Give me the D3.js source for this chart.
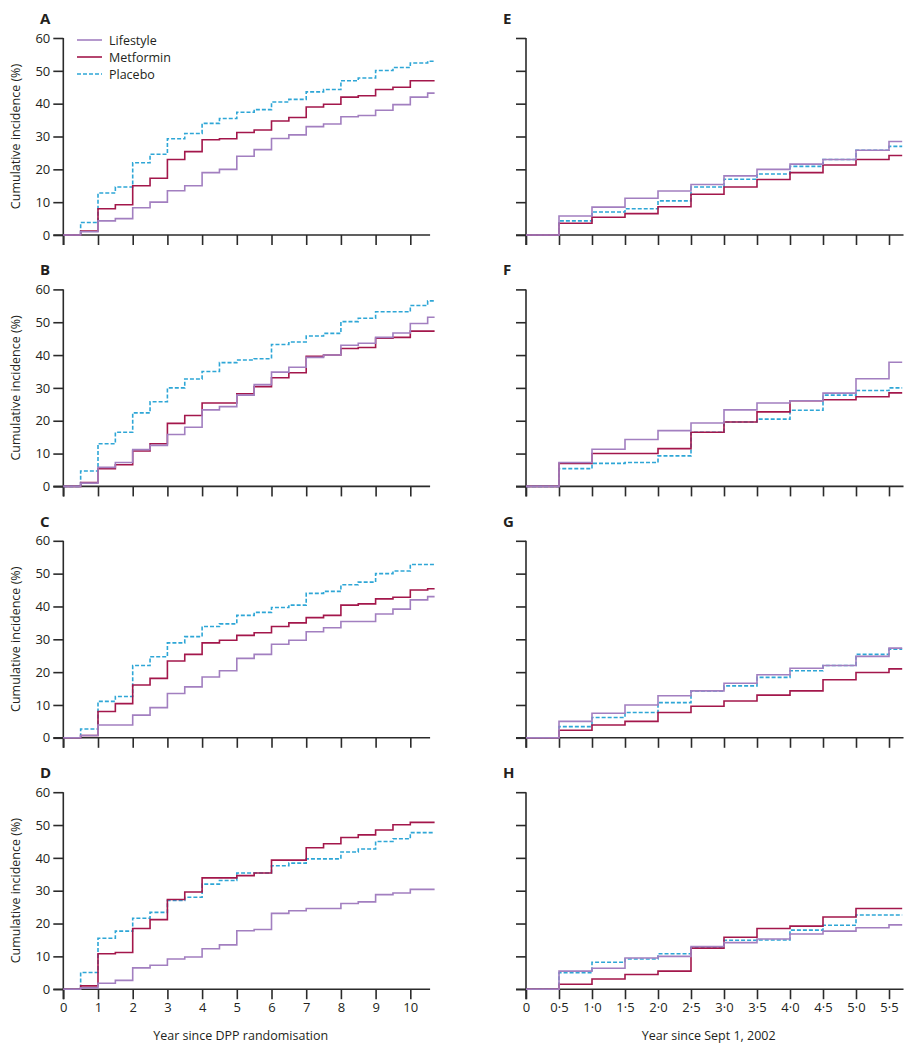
<!DOCTYPE html>
<html><head><meta charset="utf-8">
<script src="https://cdn.jsdelivr.net/npm/d3@7"></script>
<style>
body{margin:0;background:#fff;}
text{font-family:"Open Sans","Noto Sans",sans-serif;fill:#231f20;}
</style></head>
<body><svg id="c" width="913" height="1050"></svg>
<script>
// ---- data ----
const stepsLeft = [0.5,1,1.5,2,2.5,3,3.5,4,4.5,5,5.5,6,6.5,7,7.5,8,8.5,9,9.5,10,10.5];
const stepsRight = [0.5,1,1.5,2,2.5,3,3.5,4,4.5,5,5.5];
const xTicksLeft = [0,1,2,3,4,5,6,7,8,9,10];
const xTicksRight = [0,0.5,1,1.5,2,2.5,3,3.5,4,4.5,5,5.5];
const xTickLabelsRight = ["0","0·5","1·0","1·5","2·0","2·5","3·0","3·5","4·0","4·5","5·0","5·5"];
const yTicks = [0,10,20,30,40,50,60];
const seriesNames = ["Lifestyle","Metformin","Placebo"];
const panelLabels = ["A","B","C","D","E","F","G","H"];

const lifestyleA = [1,4.3,5,8.3,10,13.5,15,19,20,24,26,29.4,30.5,33,33.8,36,36.4,38,39.7,42,43.2];
const metforminA = [1.2,8,9.2,15,17.3,23,25.4,29,29.3,31.2,32,34.7,35.8,39,39.8,42,42.4,44.3,45,47,47];
const placeboA   = [3.8,12.8,14.6,22,24.6,29.3,30.9,34,35.5,37.4,38.2,40.5,41.3,43.6,44.3,47,47.8,50.1,51,52.4,52.9];

const lifestyleB = [1,5.8,7.3,11.2,12.5,15.8,18,23.3,24.3,27.8,31,34.8,36.3,39.3,40,43,43.6,45.4,46.7,49.6,51.5];
const metforminB = [1.2,5.4,6.6,10.8,13,19.2,21.6,25.4,25.4,28.2,30.4,33.1,34.6,39.6,40,42,42.3,45.1,45.4,47.3,47.3];
const placeboB   = [4.7,13,16.5,22.4,25.8,30,32.7,35,37.7,38.5,38.9,43.2,44,45.8,46.6,50.2,51.2,53.2,53.2,55.1,56.5];

const lifestyleC = [0.7,3.9,3.9,6.9,9.2,13.5,15.5,18.5,20.4,24.2,25.4,28.5,29.7,32.3,33.5,35.4,35.4,37.7,39.2,42,43];
const metforminC = [0.7,8,10.4,16.1,18.1,23.4,25.4,28.9,29.7,31.2,32,33.9,35,36.6,37.3,40.4,40.8,42.3,42.8,45,45.4];
const placeboC   = [2.7,11.1,12.6,22,24.7,28.9,30.8,33.9,34.7,37.3,38.2,39.7,40.4,44,44.6,46.6,47.4,50,50.8,52.8,52.8];

const lifestyleD = [0.4,1.8,2.7,6.5,7.3,9.2,9.8,12.3,13.5,17.8,18.2,23.1,23.9,24.6,24.6,26.1,26.6,28.8,29.3,30.4,30.4];
const metforminD = [1,10.8,11.2,18.5,21.2,27.3,29.6,33.9,33.9,34.6,35.4,39.3,39.3,43.1,44.3,46.2,47,48.5,50.1,50.8,50.8];
const placeboD   = [5.1,15.5,17.7,21.6,23.4,27,28,32,33.1,35.4,35.4,37.6,38.4,39.7,39.7,41.8,42.7,45,45.8,47.7,47.7];

const lifestyleE = [5.8,8.5,11.2,13.4,15.4,18,20,21.6,23,25.8,28.5];
const metforminE = [3.6,5.4,6.5,8.6,12.4,14.6,16.9,19,21.3,23,24.2];
const placeboE   = [4.3,7,8,10.4,14.6,17,18.6,20.9,23,25.8,27];

const lifestyleF = [7.3,11.3,14.3,17,19.3,23.3,25.4,26.1,28.4,32.8,37.8];
const metforminF = [7,10,10,11.5,16.5,19.6,22.7,26.1,26.4,27.3,28.5];
const placeboF   = [5.4,7,7.3,9.3,16.5,19.6,20.5,23.2,27.8,29.2,30];

const lifestyleG = [5,7.5,10,12.8,14.3,16.6,19.2,21.2,22,24.8,27.3];
const metforminG = [2.3,3.9,5,7.7,9.6,11.2,13,14.3,17.7,19.9,21];
const placeboG   = [3.4,6.2,7.7,10.7,14.3,15.8,18.4,20.4,22,25.4,27];

const lifestyleH = [5.5,6.4,9.5,10,13,14.2,15.3,16.8,17.7,18.7,19.6];
const metforminH = [1.5,3.1,4.5,5.5,12.5,15.8,18.5,19.2,22,24.6,24.6];
const placeboH   = [5,8.2,9.2,10.8,12.6,14.9,15,18,19.5,22.6,22.6];

// ---- build ----
const panels = [
  {label:"A", col:0, row:0, s:[lifestyleA,metforminA,placeboA]},
  {label:"B", col:0, row:1, s:[lifestyleB,metforminB,placeboB]},
  {label:"C", col:0, row:2, s:[lifestyleC,metforminC,placeboC]},
  {label:"D", col:0, row:3, s:[lifestyleD,metforminD,placeboD]},
  {label:"E", col:1, row:0, s:[lifestyleE,metforminE,placeboE]},
  {label:"F", col:1, row:1, s:[lifestyleF,metforminF,placeboF]},
  {label:"G", col:1, row:2, s:[lifestyleG,metforminG,placeboG]},
  {label:"H", col:1, row:3, s:[lifestyleH,metforminH,placeboH]},
];
const colors = ["#a27fc0","#a3174b","#2ea6d6"];
const dashes = [null,null,"4,2"];
const axisColor = "#2b2b2b";

const svg = d3.select("#c");

const colCfg = [
  {x0:63.3, x1:434.6, dom:[0,10.7], axisEnd:10.57, steps:stepsLeft, ticks:xTicksLeft, labels:xTicksLeft.map(String), labelX:40, title:"Year since DPP randomisation", yLabels:true},
  {x0:526, x1:902.2, dom:[0,5.7], axisEnd:5.72, steps:stepsRight, ticks:xTicksRight, labels:xTickLabelsRight, labelX:503, title:"Year since Sept 1, 2002", yLabels:false}
];

panels.forEach(p => {
  const cfg = colCfg[p.col];
  const top = 38 + p.row*251.4;
  const bottom = top + 197;
  const x = d3.scaleLinear().domain(cfg.dom).range([cfg.x0, cfg.x1]);
  const y = d3.scaleLinear().domain([0,60]).range([bottom, top]);
  const g = svg.append("g");

  // panel label
  g.append("text").attr("x", cfg.labelX).attr("y", top-14)
    .attr("font-size", 15).attr("font-weight", "bold").text(p.label);

  // y axis
  const ya = d3.axisLeft(y).tickValues(yTicks).tickSize(10).tickPadding(3)
    .tickFormat(cfg.yLabels ? d3.format("d") : () => "");
  const yg = g.append("g").attr("transform", `translate(${cfg.x0},0)`).call(ya);
  yg.select(".domain").remove();
  yg.selectAll(".tick line").attr("stroke", axisColor).attr("stroke-width", 1.6);
  yg.selectAll(".tick text").attr("font-size", 13).attr("fill", "#231f20")
    .style("font-family", '"Open Sans","Noto Sans",sans-serif');
  g.append("line").attr("x1", cfg.x0).attr("x2", cfg.x0).attr("y1", top).attr("y2", bottom+10)
    .attr("stroke", axisColor).attr("stroke-width", 1.6);

  // x axis
  const showX = p.row === 3;
  const xa = d3.axisBottom(x).tickValues(cfg.ticks).tickSize(10).tickPadding(4)
    .tickFormat((d,i) => showX ? cfg.labels[i] : "");
  const xg = g.append("g").attr("transform", `translate(0,${bottom})`).call(xa);
  xg.select(".domain").remove();
  xg.selectAll(".tick line").attr("stroke", axisColor).attr("stroke-width", 1.6);
  xg.selectAll(".tick text").attr("font-size", 13).attr("fill", "#231f20")
    .style("font-family", '"Open Sans","Noto Sans",sans-serif');
  g.append("line").attr("x1", cfg.x0-10).attr("x2", x(cfg.axisEnd)).attr("y1", bottom).attr("y2", bottom)
    .attr("stroke", axisColor).attr("stroke-width", 1.6);

  if (showX) {
    g.append("text").attr("x", (cfg.x0 + x(cfg.axisEnd))/2 - 6).attr("y", bottom+51)
      .attr("text-anchor", "middle").attr("font-size", 12.5).text(cfg.title);
  }
  if (p.col === 0) {
    g.append("text").attr("transform", `translate(20,${(top+bottom)/2}) rotate(-90)`)
      .attr("text-anchor", "middle").attr("font-size", 12.5).text("Cumulative incidence (%)");
  }

  // series (placebo, metformin, lifestyle order)
  const line = d3.line().x(d => x(d[0])).y(d => y(d[1])).curve(d3.curveStepAfter);
  [2,1,0].forEach(si => {
    const vals = p.s[si];
    const pts = [[0,0]].concat(cfg.steps.map((t,i) => [t, vals[i]]));
    pts.push([cfg.dom[1], vals[vals.length-1]]);
    g.append("path").datum(pts).attr("d", line).attr("fill", "none")
      .attr("stroke", colors[si]).attr("stroke-width", 1.6)
      .attr("stroke-dasharray", dashes[si]);
  });
});

// legend
const leg = svg.append("g");
seriesNames.forEach((n,i) => {
  const yy = 40 + i*17;
  leg.append("line").attr("x1", 77).attr("x2", 102).attr("y1", yy).attr("y2", yy)
    .attr("stroke", colors[i]).attr("stroke-width", 1.6).attr("stroke-dasharray", dashes[i]);
  leg.append("text").attr("x", 109).attr("y", yy+4.5).attr("font-size", 12.5).text(n);
});
</script></body></html>
